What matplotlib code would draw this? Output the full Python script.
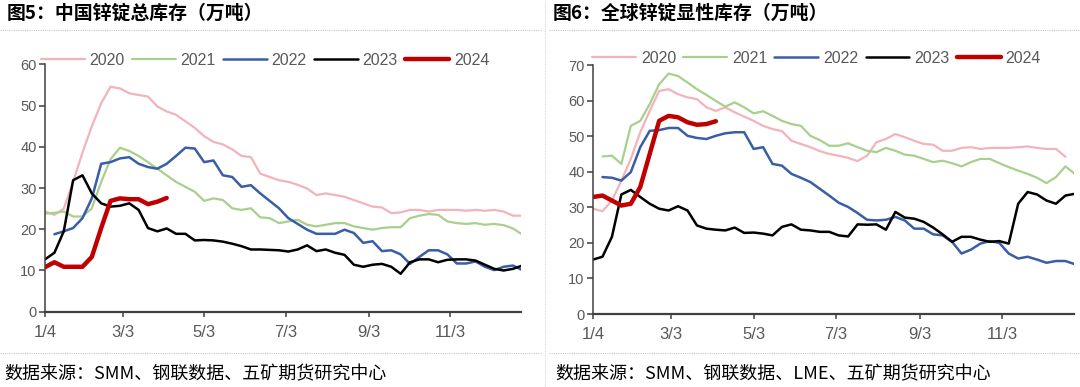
import numpy as np
import matplotlib
matplotlib.use('Agg')
import matplotlib.pyplot as plt
from matplotlib.lines import Line2D

plt.rcParams['font.family'] = ['Liberation Sans', 'DejaVu Sans']

# weekly points, day of year
days = list(range(4, 362, 7))  # 52 weeks
tick_days = [4, 62, 123, 184, 246, 307]
tick_labels = ['1/4', '3/3', '5/3', '7/3', '9/3', '11/3']
years = ['2020', '2021', '2022', '2023', '2024']

# 图5 中国锌锭总库存
cn_2020 = [24.3, 23.5, 25.0, 31.5, 38.6, 45.0, 50.6, 54.6, 54.2, 53.0, 52.6, 52.2, 49.8, 48.6,
           47.8, 46.2, 44.6, 42.6, 41.2, 40.6, 39.4, 37.8, 37.5, 33.5, 32.7, 31.9, 31.5, 30.8,
           29.9, 28.3, 28.7, 28.3, 27.9, 27.1, 26.3, 25.5, 25.3, 23.9, 24.1, 24.7, 24.7, 24.3,
           24.7, 24.7, 24.7, 24.5, 24.7, 24.5, 24.7, 24.3, 23.3, 23.3]
cn_2021 = [23.8, 24.0, 24.3, 23.1, 23.1, 25.1, 31.5, 37.0, 39.8, 39.0, 37.8, 36.3, 34.7, 33.1,
           31.5, 30.3, 29.1, 26.9, 27.5, 27.1, 25.1, 24.7, 25.1, 22.9, 22.7, 21.5, 21.9, 22.3,
           21.1, 20.7, 21.1, 21.5, 21.5, 20.7, 20.3, 19.9, 20.3, 20.5, 20.5, 22.7, 23.3, 23.7,
           23.5, 21.9, 21.5, 21.3, 21.5, 21.1, 21.3, 21.0, 20.2, 18.7]
cn_2022 = [None, 18.8, 19.5, 20.3, 22.7, 27.5, 35.9, 36.3, 37.2, 37.5, 35.9, 35.1, 34.7, 35.9,
           37.8, 39.8, 39.6, 36.3, 36.7, 33.1, 32.7, 30.3, 30.7, 28.7, 26.9, 25.1, 22.7, 21.3,
           19.9, 18.9, 18.9, 18.9, 19.9, 19.1, 16.7, 17.1, 14.7, 14.9, 13.9, 11.6, 13.3, 14.9,
           14.9, 13.9, 11.7, 11.7, 12.2, 10.9, 10.1, 10.9, 11.2, 10.1]
cn_2023 = [12.7, 14.3, 19.5, 31.9, 33.1, 28.7, 26.3, 25.5, 25.7, 26.3, 24.7, 20.3, 19.5, 20.2,
           18.9, 18.9, 17.3, 17.4, 17.3, 17.0, 16.5, 15.9, 15.1, 15.1, 15.0, 14.9, 14.6, 15.1,
           16.1, 14.7, 15.1, 14.3, 13.8, 11.4, 10.9, 11.4, 11.6, 10.9, 9.2, 12.0, 12.7, 12.7,
           12.0, 12.6, 12.7, 12.7, 12.4, 11.4, 10.4, 10.0, 10.4, 11.2]
cn_2024 = [10.8, 12.0, 10.9, 10.9, 10.9, 13.3, 20.3, 26.9, 27.5, 27.3, 27.3, 26.1, 26.7, 27.6]

# 图6 全球锌锭显性库存
gl_2020 = [29.6, 28.9, 31.9, 37.5, 43.6, 51.1, 57.1, 62.7, 63.2, 61.8, 60.9, 60.4, 58.1, 57.1,
           58.1, 56.7, 55.5, 54.3, 52.9, 52.0, 51.4, 48.7, 47.8, 46.9, 45.8, 45.0, 44.5, 43.9,
           43.0, 44.5, 48.3, 49.2, 50.6, 49.7, 48.7, 47.8, 47.6, 45.9, 45.9, 46.7, 46.9, 46.4,
           46.7, 46.7, 46.7, 46.9, 47.1, 46.7, 46.4, 46.4, 44.2]
gl_2021 = [None, 44.3, 44.5, 42.2, 52.9, 54.3, 59.0, 64.6, 67.6, 66.9, 65.1, 63.2, 61.6, 59.9,
           58.3, 59.5, 58.1, 56.4, 57.0, 55.7, 54.3, 53.4, 52.9, 50.1, 48.9, 47.3, 47.3, 48.0,
           46.9, 45.9, 45.5, 46.7, 45.9, 44.8, 44.5, 43.6, 42.7, 43.1, 42.4, 41.5, 42.7, 43.6,
           43.6, 42.4, 41.3, 40.3, 39.4, 38.3, 36.8, 38.5, 41.5, 39.4]
gl_2022 = [None, 38.5, 38.3, 37.5, 39.9, 46.9, 51.5, 51.7, 52.3, 52.3, 50.1, 49.5, 49.2, 50.1,
           50.8, 51.1, 51.1, 46.4, 46.9, 42.2, 41.7, 39.4, 38.3, 37.1, 35.2, 33.3, 31.3, 30.1,
           28.4, 26.5, 26.3, 26.5, 27.3, 26.3, 24.0, 24.0, 22.4, 22.1, 20.3, 17.0, 18.1, 19.8,
           20.5, 20.0, 17.0, 15.6, 16.1, 15.3, 14.4, 14.9, 14.9, 14.0]
gl_2023 = [15.3, 16.1, 21.7, 33.6, 34.9, 32.9, 31.0, 29.6, 29.1, 30.3, 29.1, 24.9, 24.0, 23.7,
           23.5, 24.3, 22.8, 22.9, 22.6, 22.1, 24.5, 25.2, 23.7, 23.5, 23.1, 23.1, 22.1, 21.8,
           25.2, 25.1, 25.2, 23.7, 28.7, 27.1, 26.8, 25.9, 24.3, 22.4, 20.3, 21.7, 21.7, 20.9,
           20.3, 20.5, 19.8, 31.0, 34.3, 33.6, 31.9, 31.0, 33.3, 33.8]
gl_2024 = [32.9, 33.3, 31.9, 30.5, 31.0, 35.7, 45.0, 54.3, 55.7, 55.3, 53.9, 53.2, 53.4, 54.2]

colors = ['#F2B3BB', '#A8D08D', '#3A5DA8', '#000000', '#C00000']
widths = [1.6, 1.6, 1.8, 1.8, 3.2]
tick_color = '#595959'
cjk = ['Noto Sans CJK SC', 'DejaVu Sans']


def to_arr(v):
    return np.array([np.nan if x is None else x for x in v], dtype=float)


def draw(ax, series, ymax, leg_x, leg_y):
    for vals, c, w, lab in zip(series, colors, widths, years):
        ax.plot(days[:len(vals)], to_arr(vals), color=c, lw=w, label=lab,
                solid_capstyle='round', solid_joinstyle='round')
    ax.set_xlim(4, 360)
    ax.set_ylim(0, ymax)
    ax.set_yticks(range(0, ymax + 1, 10))
    ax.set_xticks(tick_days)
    ax.set_xticklabels(tick_labels)
    for s in ['top', 'right']:
        ax.spines[s].set_visible(False)
    ax.spines['left'].set_color('#404040')
    ax.spines['bottom'].set_color('#404040')
    ax.spines['left'].set_linewidth(1.1)
    ax.spines['bottom'].set_linewidth(1.6)
    ax.tick_params(axis='both', colors='#404040', labelcolor=tick_color,
                   width=1.1, direction='out')
    ax.tick_params(axis='x', labelsize=12, length=3.6, pad=6)
    ax.tick_params(axis='y', labelsize=10.5, length=4.5, pad=1.5)
    ax.patch.set_alpha(0)
    ax.legend(loc='center', bbox_to_anchor=(leg_x, leg_y), ncol=5, frameon=False,
              fontsize=11.5, handlelength=2.75, handletextpad=0.3, columnspacing=0.45,
              labelcolor=tick_color, borderaxespad=0)


fig = plt.figure(figsize=(10.8, 3.87), dpi=100)

ax1 = fig.add_axes([0.0417, 0.1946, 0.4407, 0.6388])
draw(ax1, [cn_2020, cn_2021, cn_2022, cn_2023, cn_2024], 60, 0.462, 1.018)

ax2 = fig.add_axes([0.5491, 0.1886, 0.4449, 0.6434])
draw(ax2, [gl_2020, gl_2021, gl_2022, gl_2023, gl_2024], 70, 0.465, 1.028)

# titles and sources
fig.text(0.006, 0.966, '图5：中国锌锭总库存（万吨）', family=cjk, fontsize=13.6,
         fontweight='bold', va='center', ha='left')
fig.text(0.512, 0.966, '图6：全球锌锭显性库存（万吨）', family=cjk, fontsize=13.6,
         fontweight='bold', va='center', ha='left')
fig.text(0.004, 0.034, '数据来源：SMM、钢联数据、五矿期货研究中心', family=cjk,
         fontsize=13, va='center', ha='left')
fig.text(0.514, 0.034, '数据来源：SMM、钢联数据、LME、五矿期货研究中心', family=cjk,
         fontsize=13, va='center', ha='left')

# dotted separators
for y in [1 - 30 / 387, 1 - 353 / 387]:
    fig.add_artist(Line2D([0, 0.502], [y, y], color='#C8C8C8', lw=0.8, ls=(0, (1, 1))))
    fig.add_artist(Line2D([0.508, 1], [y, y], color='#C8C8C8', lw=0.8, ls=(0, (1, 1))))
fig.add_artist(Line2D([0.505, 0.505], [0, 1], color='#D8D8D8', lw=0.8, ls=(0, (1, 1))))

fig.savefig('out.png', dpi=100, facecolor='white')
